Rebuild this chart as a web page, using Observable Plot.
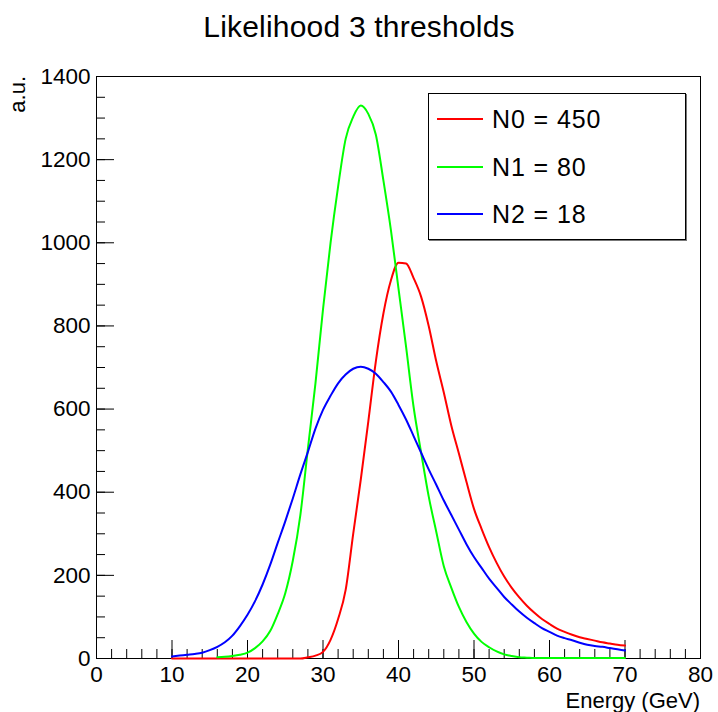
<!DOCTYPE html>
<html>
<head>
<meta charset="utf-8">
<script src="https://cdn.jsdelivr.net/npm/d3@7"></script>
<script src="https://cdn.jsdelivr.net/npm/@observablehq/plot@0.6"></script>
<style>
  body { margin: 0; background: #fff; font-family: "Liberation Sans", Arial, sans-serif; }
  #wrap { position: relative; width: 718px; height: 712px; overflow: hidden; }
  #title { height: 56px; width: 718px; text-align: center; font-size: 30px; line-height: 54px; color: #000; letter-spacing: 0.2px; }
  #legend { position: absolute; left: 428px; top: 93px; width: 258px; height: 147px; box-sizing: border-box;
            border: 1.5px solid #000; background: #fff; box-shadow: 1px 1px 0 #777; }
  .row { position: absolute; left: 0; width: 100%; height: 30px; }
  .sw { position: absolute; left: 8px; top: 14px; width: 46px; height: 2px; }
  .lab { position: absolute; left: 63px; top: 0; font-size: 25px; line-height: 30px; color: #000; letter-spacing: 0.9px; }
  #xlabel { position: absolute; right: 18px; top: 689px; font-size: 22px; line-height: 23px; color: #000; }
  #ylabel { position: absolute; left: 6px; top: 76px; font-size: 22px; line-height: 24px; color: #000;
            writing-mode: vertical-rl; transform: rotate(180deg); transform-origin: center; }
</style>
</head>
<body>
<div id="wrap">
  <div id="title">Likelihood 3 thresholds</div>
  <div id="chart"></div>
  <div id="legend"></div>
  <div id="xlabel">Energy (GeV)</div>
  <div id="ylabel">a.u.</div>
</div>
<script>
// Energy bins (GeV)
const energy = [10,11,12,13,14,15,16,17,18,19,20,21,22,23,24,25,26,27,28,29,30,31,32,33,34,35,36,37,38,39,40,
                41,42,43,44,45,46,47,48,49,50,51,52,53,54,55,56,57,58,59,60,61,62,63,64,65,66,67,68,69,70];

// N0 = 450 (red)
const n0 = [0,0,0,0,0,0,0,0,0,0,0,0,0,0,0,0,0,0,3,7,16,45,95,165,300,430,570,715,830,910,952,
            950,915,870,800,715,640,560,493,425,360,312,268,230,197,170,147,127,110,95,83,72,64,57,51,47,43,39,36,33,31];

// N1 = 80 (green); no entries below 16 GeV
const n1 = [null,null,null,null,null,null,3,4,6,9,14,25,41,66,107,157,235,345,505,662,840,1000,1135,1250,1303,1330,1310,1260,1150,1030,890,
            750,605,495,390,305,222,170,124,88,60,40,27,17,10,6,3,2,1,1,1,1,1,1,1,1,1,1,1,1,1];

// N2 = 18 (blue)
const n2 = [5,7,9,11,14,20,28,39,55,78,105,138,178,225,278,330,385,443,497,553,598,632,662,683,697,702,697,685,665,642,610,
            575,535,495,455,418,380,345,310,275,244,218,192,170,148,130,113,98,85,73,64,55,49,44,38,33,30,28,25,22,19];

const seriesNames = ["N0 = 450", "N1 = 80", "N2 = 18"];
const seriesColors = ["#ff0000", "#00ff00", "#0000ff"];
const seriesValues = [n0, n1, n2];

const xMajor = [0,10,20,30,40,50,60,70,80];
const xMinor = d3.range(0, 81, 2);
const yMajor = [0,200,400,600,800,1000,1200,1400];
const yMinor = d3.range(0, 1401, 50);

const rows = seriesValues.map((vals, i) =>
  energy.map((e, j) => ({energy: e, value: vals[j], series: seriesNames[i]})));

const plot = Plot.plot({
  width: 718,
  height: 656,
  marginTop: 20,
  marginBottom: 54,
  marginLeft: 96,
  marginRight: 18,
  style: {fontFamily: "'Liberation Sans', Arial, sans-serif", fontSize: "22px", color: "#000", background: "#fff", overflow: "visible"},
  x: {domain: [0, 80]},
  y: {domain: [0, 1400]},
  marks: [
    Plot.axisX({ticks: xMinor, tickSize: -9, text: null, label: null, stroke: "#000"}),
    Plot.axisX({ticks: xMajor, tickSize: -18, text: null, label: null, stroke: "#000"}),
    Plot.axisX({ticks: xMajor, tickSize: 0, tickPadding: 8, fontSize: 22.5, label: null, tickFormat: d => String(d)}),
    Plot.axisY({ticks: yMinor, tickSize: -9, text: null, label: null, stroke: "#000"}),
    Plot.axisY({ticks: yMajor, tickSize: 0, tickPadding: 6, fontSize: 22.5, label: null, tickFormat: d => String(d)}),
    Plot.axisY({ticks: yMajor, tickSize: -18, text: null, label: null, stroke: "#000"}),
    Plot.frame({stroke: "#000", strokeWidth: 1}),
    ...rows.map((data, i) => Plot.lineY(data, {
      x: "energy", y: "value", stroke: seriesColors[i], strokeWidth: 2, curve: "monotone-x"
    }))
  ]
});
document.getElementById("chart").appendChild(plot);

// Legend
const legend = d3.select("#legend");
seriesNames.forEach((name, i) => {
  const row = legend.append("div").attr("class", "row").style("top", (10 + i * 47.5) + "px");
  row.append("div").attr("class", "sw").style("background", seriesColors[i]);
  row.append("div").attr("class", "lab").text(name);
});
</script>
</body>
</html>
